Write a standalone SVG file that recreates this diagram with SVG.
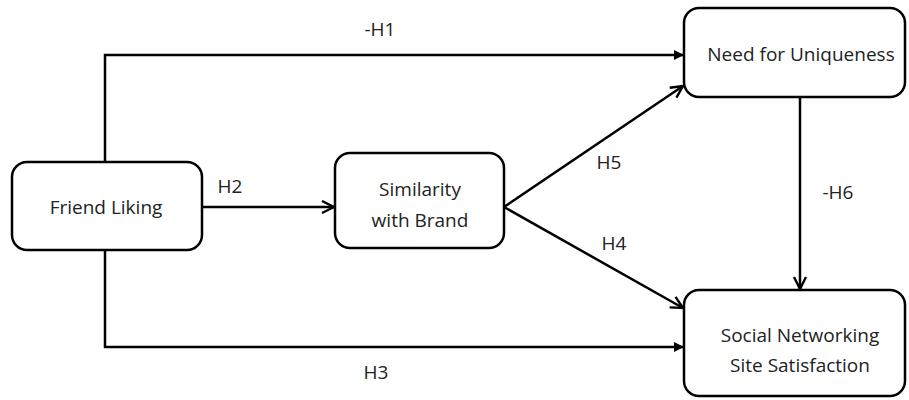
<svg xmlns="http://www.w3.org/2000/svg" width="909" height="400" viewBox="0 0 909 400">
<defs>
<style>
.box{fill:#fff;stroke:#000;stroke-width:2.5}
.t{font-family:"Open Sans","Liberation Sans",sans-serif;font-size:19px;fill:#222;text-anchor:middle;dominant-baseline:central}
.c{fill:none;stroke:#000;stroke-width:2.5}
</style>
<marker id="chev" viewBox="0 0 10 10" refX="9" refY="5" markerWidth="6" markerHeight="6" orient="auto" markerUnits="strokeWidth">
<path d="M1,1 L9,5 L1,9" fill="none" stroke="#000" stroke-width="1.6"/>
</marker>
<marker id="tri" viewBox="0 0 10 10" refX="9" refY="5" markerWidth="4" markerHeight="4" orient="auto" markerUnits="strokeWidth">
<path d="M0,0 L10,5 L0,10 Z" fill="#000"/>
</marker>
</defs>
<rect width="909" height="400" fill="#fff"/>
<g id="connectors">
<path class="c" d="M105,162 V55 H683" marker-end="url(#tri)"/>
<path class="c" d="M202,207 H334" marker-end="url(#chev)"/>
<path class="c" d="M105,250 V347 H683" marker-end="url(#tri)"/>
<path class="c" d="M504,207 L683,86" marker-end="url(#chev)"/>
<path class="c" d="M504,207 L683,308" marker-end="url(#chev)"/>
<path class="c" d="M800,97 V289" marker-end="url(#chev)"/>
<text class="t" x="380" y="29">-H1</text>
<text class="t" x="230" y="186">H2</text>
<text class="t" x="376" y="372">H3</text>
<text class="t" x="609" y="162">H5</text>
<text class="t" x="614" y="243">H4</text>
<text class="t" x="838" y="192">-H6</text>
</g>
<g id="friend-liking">
<rect class="box" x="12" y="162" width="190" height="88" rx="15"/>
<text class="t" x="106" y="207">Friend Liking</text>
</g>
<g id="similarity">
<rect class="box" x="335" y="153" width="169" height="95" rx="15"/>
<text class="t" x="420" y="189">Similarity</text>
<text class="t" x="420" y="220">with Brand</text>
</g>
<g id="uniqueness">
<rect class="box" x="684" y="8" width="221" height="89" rx="15"/>
<text class="t" x="801" y="54">Need for Uniqueness</text>
</g>
<g id="satisfaction">
<rect class="box" x="684" y="290" width="221" height="106" rx="15"/>
<text class="t" x="800" y="335">Social Networking</text>
<text class="t" x="800" y="365">Site Satisfaction</text>
</g>
</svg>
